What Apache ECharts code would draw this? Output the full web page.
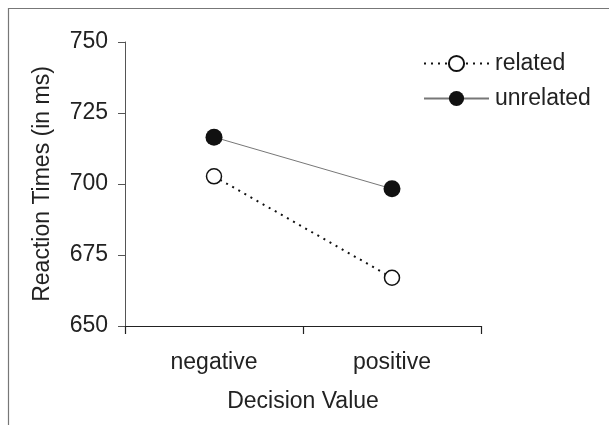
<!DOCTYPE html>
<html>
<head>
<meta charset="utf-8">
<script src="https://cdn.jsdelivr.net/npm/echarts@6/dist/echarts.min.js"></script>
<style>
html,body{margin:0;padding:0;background:#fff;}
#chart{width:609px;height:425px;}
</style>
</head>
<body>
<div id="chart"></div>
<script>
var categories = ['negative', 'positive'];
var relatedValues = [702.7, 667.0];
var unrelatedValues = [716.5, 698.3];
var yTicks = [650, 675, 700, 725, 750];
var seriesNames = ['related', 'unrelated'];
var yAxisTitle = 'Reaction Times (in ms)';
var xAxisTitle = 'Decision Value';

var chart = echarts.init(document.getElementById('chart'), null, {renderer: 'canvas'});
var font = 'Liberation Sans, Arial, sans-serif';
var FS = 23;
chart.setOption({
  animation: false,
  backgroundColor: '#fff',
  grid: {left: 125, right: 128, top: 42, bottom: 99, containLabel: false},
  legend: {
    data: seriesNames,
    orient: 'vertical',
    left: 423,
    top: 52,
    padding: 0,
    itemWidth: 65,
    itemHeight: 19,
    itemGap: 12,
    textStyle: {fontFamily: font, fontSize: FS, color: '#222', padding: [0,0,0,1]}
  },
  xAxis: {
    type: 'category',
    data: categories,
    boundaryGap: true,
    name: xAxisTitle,
    nameLocation: 'middle',
    nameGap: 64,
    nameTextStyle: {fontFamily: font, fontSize: FS, color: '#222'},
    axisLine: {lineStyle: {color: '#222', width: 1.2}},
    axisTick: {show: true, length: 8, inside: false, alignWithLabel: false, lineStyle: {color: '#222', width: 1.2}},
    axisLabel: {fontFamily: font, fontSize: FS, color: '#222', margin: 25}
  },
  yAxis: {
    type: 'value',
    min: yTicks[0],
    max: yTicks[yTicks.length - 1],
    interval: 25,
    name: yAxisTitle,
    nameLocation: 'middle',
    nameGap: 71,
    nameRotate: 90,
    nameTextStyle: {fontFamily: font, fontSize: FS, color: '#222'},
    splitLine: {show: false},
    axisLine: {show: true, lineStyle: {color: '#555', width: 1}},
    axisTick: {show: true, length: 7, lineStyle: {color: '#555', width: 1}},
    axisLabel: {fontFamily: font, fontSize: FS, color: '#222', margin: 17}
  },
  graphic: [
    {type: 'polyline', silent: true, shape: {points: [[8.5, 425], [8.5, 8.5], [609, 8.5]]}, style: {stroke: '#777', lineWidth: 1.2, fill: null}}
  ],
  series: [
    {
      name: seriesNames[0],
      type: 'line',
      data: relatedValues,
      symbol: 'circle',
      symbolSize: 15,
      itemStyle: {color: '#fff', borderColor: '#111', borderWidth: 1.5},
      lineStyle: {color: '#111', width: 2, type: [2, 5]},
      z: 3
    },
    {
      name: seriesNames[1],
      type: 'line',
      data: unrelatedValues,
      symbol: 'circle',
      symbolSize: 17,
      itemStyle: {color: '#111', borderColor: '#111', borderWidth: 0},
      lineStyle: {color: '#777', width: 1, type: 'solid'},
      z: 4
    }
  ]
});
</script>
</body>
</html>
